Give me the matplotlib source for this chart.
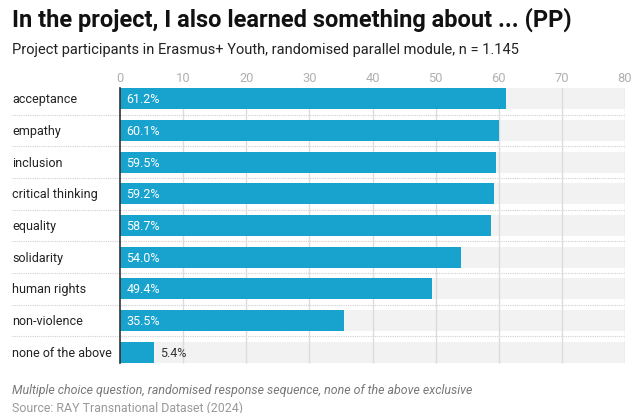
import matplotlib.pyplot as plt

plt.rcParams['font.family'] = ['Roboto', 'DejaVu Sans']

categories = ["acceptance", "empathy", "inclusion", "critical thinking", "equality",
              "solidarity", "human rights", "non-violence", "none of the above"]
values = [61.2, 60.1, 59.5, 59.2, 58.7, 54.0, 49.4, 35.5, 5.4]
ticks = [0, 10, 20, 30, 40, 50, 60, 70, 80]

W, H = 637, 414
fig = plt.figure(figsize=(W / 100, H / 100), dpi=100)
ax = fig.add_axes([120 / W, 1 - 369 / H, 505 / W, 285 / H])

bar_color = '#18a3cf'
ypos = list(range(len(categories)))
bar_h = 0.66
label_x = -108 / 6.3125  # category labels sit left of the axis, in data units

# light background track behind each bar
ax.barh(ypos, [80] * len(ypos), height=bar_h, color='#f2f2f2', zorder=1)
ax.vlines(ticks[1:], -bar_h / 2, ypos[-1] + bar_h / 2, color='#dcdcdc', lw=1, zorder=1.5)
ax.barh(ypos, values, height=bar_h, color=bar_color, zorder=2)

# dotted separators between rows
for y in ypos[:-1]:
    ax.plot([label_x, 80], [y + 0.5, y + 0.5], ls=(0, (1, 1)), color='#d0d0d0',
            lw=0.8, clip_on=False, zorder=1)

for y, v in zip(ypos, values):
    txt = f"{v:.1f}%"
    if v > 10:
        ax.text(1.0, y, txt, va='center', ha='left', color='white', fontsize=9, zorder=3)
    else:
        ax.text(v + 1.0, y, txt, va='center', ha='left', color='#333333', fontsize=9, zorder=3)
    ax.text(label_x, y, categories[y], va='center', ha='left', color='#222222',
            fontsize=9, clip_on=False)

ax.set_xlim(0, 80)
ax.set_ylim(len(categories) - 0.5, -0.5)
ax.set_yticks([])
ax.set_xticks(ticks)
ax.xaxis.tick_top()
ax.tick_params(axis='x', length=0, labelsize=9.3, labelcolor='#b0b0b0', pad=-1)
for s in ['top', 'right', 'bottom']:
    ax.spines[s].set_visible(False)
ax.spines['left'].set_bounds(-bar_h / 2, ypos[-1] + bar_h / 2)
ax.spines['left'].set_color('#333333')
ax.spines['left'].set_linewidth(1.2)
ax.spines['left'].set_zorder(4)

fig.text(12 / W, 1 - 20 / H, "In the project, I also learned something about ... (PP)",
         fontsize=17, fontweight='bold', color='#111111', va='center', ha='left')
fig.text(12 / W, 1 - 50 / H, "Project participants in Erasmus+ Youth, randomised parallel module, n = 1.145",
         fontsize=10.5, color='#222222', va='center', ha='left')
fig.text(12 / W, 1 - 391 / H, "Multiple choice question, randomised response sequence, none of the above exclusive",
         fontsize=8.9, style='italic', color='#777777', va='center', ha='left')
fig.text(12 / W, 1 - 408 / H, "Source: RAY Transnational Dataset (2024)",
         fontsize=8.9, color='#999999', va='center', ha='left')

fig.savefig('out.png', dpi=100)
